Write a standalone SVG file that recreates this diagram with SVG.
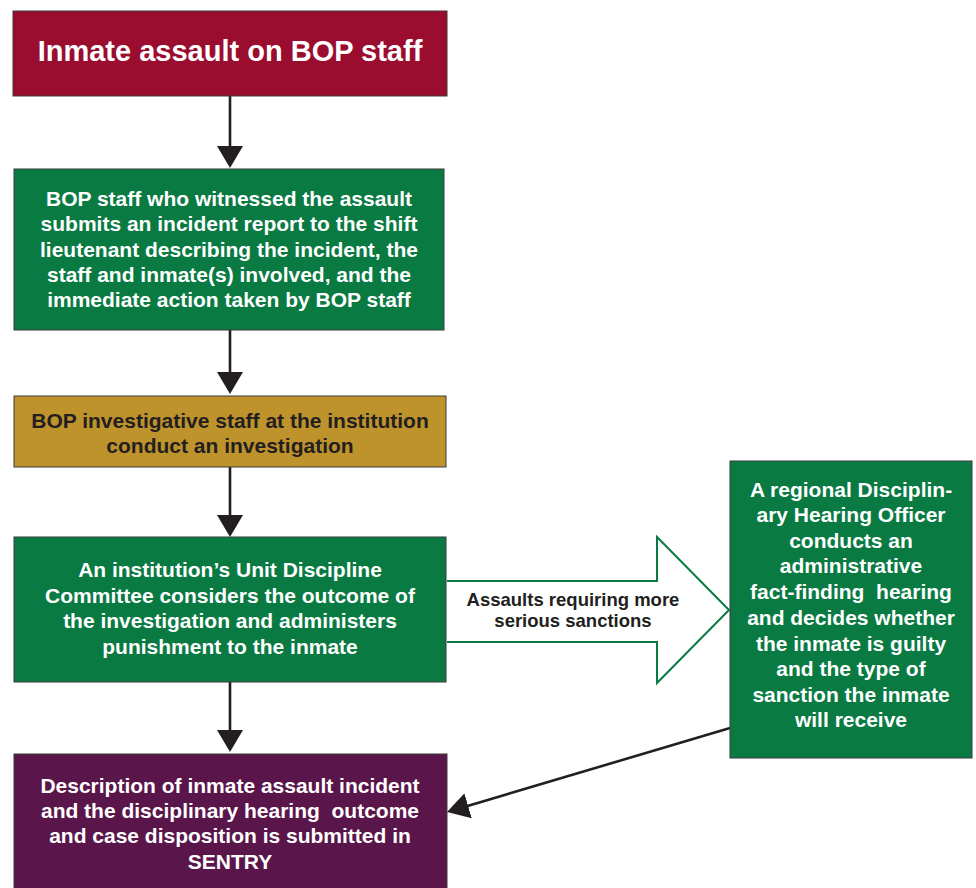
<svg xmlns="http://www.w3.org/2000/svg" width="976" height="888" viewBox="0 0 976 888">
  <style>
    .box { stroke: #3a3a3a; stroke-width: 1; }
    .crimson { fill: #9b0d2f; }
    .green { fill: #087a42; }
    .gold { fill: #bf932b; }
    .purple { fill: #5a164a; }
    text { font-family: "Liberation Sans", Arial, sans-serif; font-weight: bold; text-anchor: middle; }
    .wt { fill: #ffffff; font-size: 21px; }
    .dt { fill: #231f20; font-size: 21px; }
    .title { fill: #ffffff; font-size: 29px; }
    .lbl { fill: #231f20; font-size: 18.5px; }
    .conn { stroke: #231f20; stroke-width: 2.6; fill: none; }
  </style>
  <defs>
    <marker id="ah" viewBox="0 0 22 26" refX="12" refY="13" markerWidth="22" markerHeight="26" markerUnits="userSpaceOnUse" orient="auto">
      <path d="M0,0 L22,13 L0,26 Z" fill="#231f20"/>
    </marker>
  </defs>

  <rect width="976" height="888" fill="#ffffff"/>

  <g id="connectors">
    <line class="conn" x1="230" y1="96" x2="230" y2="158" marker-end="url(#ah)"/>
    <line class="conn" x1="230" y1="330" x2="230" y2="384" marker-end="url(#ah)"/>
    <line class="conn" x1="230" y1="467" x2="230" y2="527" marker-end="url(#ah)"/>
    <line class="conn" x1="230" y1="682" x2="230" y2="742" marker-end="url(#ah)"/>
    <line class="conn" x1="730" y1="728" x2="456.6" y2="809.2" marker-end="url(#ah)"/>
    <g id="serious-sanctions-arrow">
      <path d="M447,581 H657 V537 L729,610 L657,683 V642 H447" fill="#ffffff" stroke="#087a42" stroke-width="2"/>
      <text class="lbl" x="573" y="606">Assaults requiring more</text>
      <text class="lbl" x="573" y="627">serious sanctions</text>
    </g>
  </g>

  <g id="n1">
    <rect class="box crimson" x="13" y="11" width="434" height="85"/>
    <text class="title" x="230" y="61">Inmate assault on BOP staff</text>
  </g>

  <g id="n2">
    <rect class="box green" x="14" y="169" width="430" height="161"/>
    <text class="wt" x="229" y="206">BOP staff who witnessed the assault</text>
    <text class="wt" x="229" y="231">submits an incident report to the shift</text>
    <text class="wt" x="229" y="257">lieutenant describing the incident, the</text>
    <text class="wt" x="229" y="282">staff and inmate(s) involved, and the</text>
    <text class="wt" x="229" y="307">immediate action taken by BOP staff</text>
  </g>

  <g id="n3">
    <rect class="box gold" x="14" y="396" width="432" height="71"/>
    <text class="dt" x="230" y="428">BOP investigative staff at the institution</text>
    <text class="dt" x="230" y="453">conduct an investigation</text>
  </g>

  <g id="n4">
    <rect class="box green" x="14" y="537" width="432" height="145"/>
    <text class="wt" x="230" y="577">An institution’s Unit Discipline</text>
    <text class="wt" x="230" y="603">Committee considers the outcome of</text>
    <text class="wt" x="230" y="628">the investigation and administers</text>
    <text class="wt" x="230" y="654">punishment to the inmate</text>
  </g>

  <g id="n5">
    <rect class="box purple" x="14" y="754" width="433" height="140"/>
    <text class="wt" x="230" y="793">Description of inmate assault incident</text>
    <text class="wt" x="230" y="818" xml:space="preserve">and the disciplinary hearing  outcome</text>
    <text class="wt" x="230" y="843">and case disposition is submitted in</text>
    <text class="wt" x="230" y="869">SENTRY</text>
  </g>

  <g id="n6">
    <rect class="box green" x="730" y="461" width="242" height="297"/>
    <text class="wt" x="851" y="497">A regional Disciplin-</text>
    <text class="wt" x="851" y="522">ary Hearing Officer</text>
    <text class="wt" x="851" y="548">conducts an</text>
    <text class="wt" x="851" y="573">administrative</text>
    <text class="wt" x="851" y="599" xml:space="preserve">fact-finding  hearing</text>
    <text class="wt" x="851" y="625">and decides whether</text>
    <text class="wt" x="851" y="651">the inmate is guilty</text>
    <text class="wt" x="851" y="676">and the type of</text>
    <text class="wt" x="851" y="702">sanction the inmate</text>
    <text class="wt" x="851" y="727">will receive</text>
  </g>
</svg>
